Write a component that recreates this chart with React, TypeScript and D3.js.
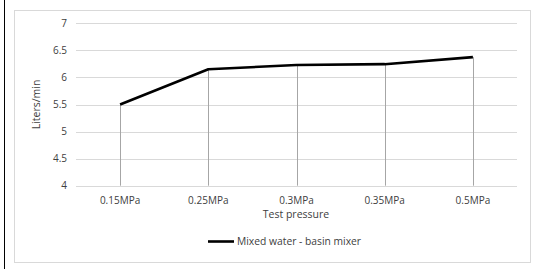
import React, { useEffect, useRef } from 'react';
import * as d3 from 'd3';

const categories = ['0.15MPa', '0.25MPa', '0.3MPa', '0.35MPa', '0.5MPa'];
const flowValues = [5.5, 6.15, 6.23, 6.245, 6.375];
const yTicks = [4, 4.5, 5, 5.5, 6, 6.5, 7];
const seriesName = 'Mixed water - basin mixer';

const W = 538;
const H = 271;
const FONT = "'Open Sans', 'Noto Sans', sans-serif";

const App = () => {
    const svgRef = useRef<SVGSVGElement | null>(null);

    useEffect(() => {
        if (!svgRef.current) return;
        const svg = d3.select(svgRef.current);
        svg.selectAll('*').remove();

        const left = 76, right = 517, top = 23.3, bottom = 185.7;

        svg.append('rect').attr('width', W).attr('height', H).attr('fill', '#fff');

        // page rule at left
        svg.append('line')
            .attr('x1', 4.5).attr('x2', 4.5).attr('y1', 0).attr('y2', 269)
            .attr('stroke', '#000').attr('stroke-width', 1);

        // chart frame
        svg.append('rect')
            .attr('x', 14.5).attr('y', 10.5).attr('width', 516).attr('height', 252)
            .attr('fill', '#fff').attr('stroke', '#d9d9d9').attr('stroke-width', 1);

        const x = d3.scaleBand().domain(categories).range([left, right]);
        const y = d3.scaleLinear().domain([4, 7]).range([bottom, top]);
        const cx = (c: string) => (x(c) as number) + x.bandwidth() / 2;

        // gridlines
        svg.append('g')
            .selectAll('line')
            .data(yTicks)
            .join('line')
            .attr('x1', left).attr('x2', right)
            .attr('y1', d => Math.round(y(d)) + 0.5).attr('y2', d => Math.round(y(d)) + 0.5)
            .attr('stroke', '#d9d9d9').attr('stroke-width', 1);

        // y tick labels
        svg.append('g')
            .selectAll('text')
            .data(yTicks)
            .join('text')
            .attr('x', 67).attr('y', d => y(d))
            .attr('dy', '0.35em')
            .attr('text-anchor', 'end')
            .style('font-family', FONT).style('font-size', '10px').style('fill', '#404040')
            .text(d => String(d));

        // drop lines
        svg.append('g')
            .selectAll('line')
            .data(flowValues)
            .join('line')
            .attr('x1', (d, i) => Math.round(cx(categories[i])) + 0.5)
            .attr('x2', (d, i) => Math.round(cx(categories[i])) + 0.5)
            .attr('y1', d => y(d)).attr('y2', bottom)
            .attr('stroke', '#a6a6a6').attr('stroke-width', 1);

        // series line
        const line = d3.line<number>()
            .x((d, i) => cx(categories[i]))
            .y(d => y(d));
        svg.append('path')
            .datum(flowValues)
            .attr('d', line)
            .attr('fill', 'none')
            .attr('stroke', '#000')
            .attr('stroke-width', 2.6)
            .attr('stroke-linejoin', 'round');

        // x tick labels
        svg.append('g')
            .selectAll('text')
            .data(categories)
            .join('text')
            .attr('x', d => cx(d)).attr('y', 200)
            .attr('dy', '0.35em')
            .attr('text-anchor', 'middle')
            .style('font-family', FONT).style('font-size', '10px').style('fill', '#404040')
            .text(d => d);

        // axis titles
        svg.append('text')
            .attr('x', 296).attr('y', 214.5).attr('dy', '0.35em')
            .attr('text-anchor', 'middle')
            .style('font-family', FONT).style('font-size', '10.5px').style('fill', '#404040')
            .text('Test pressure');

        svg.append('text')
            .attr('transform', `translate(36,${(top + bottom) / 2}) rotate(-90)`)
            .attr('dy', '0.35em')
            .attr('text-anchor', 'middle')
            .style('font-family', FONT).style('font-size', '10.5px').style('fill', '#404040')
            .text('Liters/min');

        // legend
        svg.append('line')
            .attr('x1', 208).attr('x2', 234).attr('y1', 241.5).attr('y2', 241.5)
            .attr('stroke', '#000').attr('stroke-width', 2.6);
        svg.append('text')
            .attr('x', 237).attr('y', 241.5).attr('dy', '0.35em')
            .style('font-family', FONT).style('font-size', '10.3px').style('fill', '#404040')
            .text(seriesName);
    }, []);

    return (
        <svg ref={svgRef} width={W} height={H}
            style={{ position: 'fixed', left: 0, top: 0, display: 'block' }} />
    );
};

export default App;
